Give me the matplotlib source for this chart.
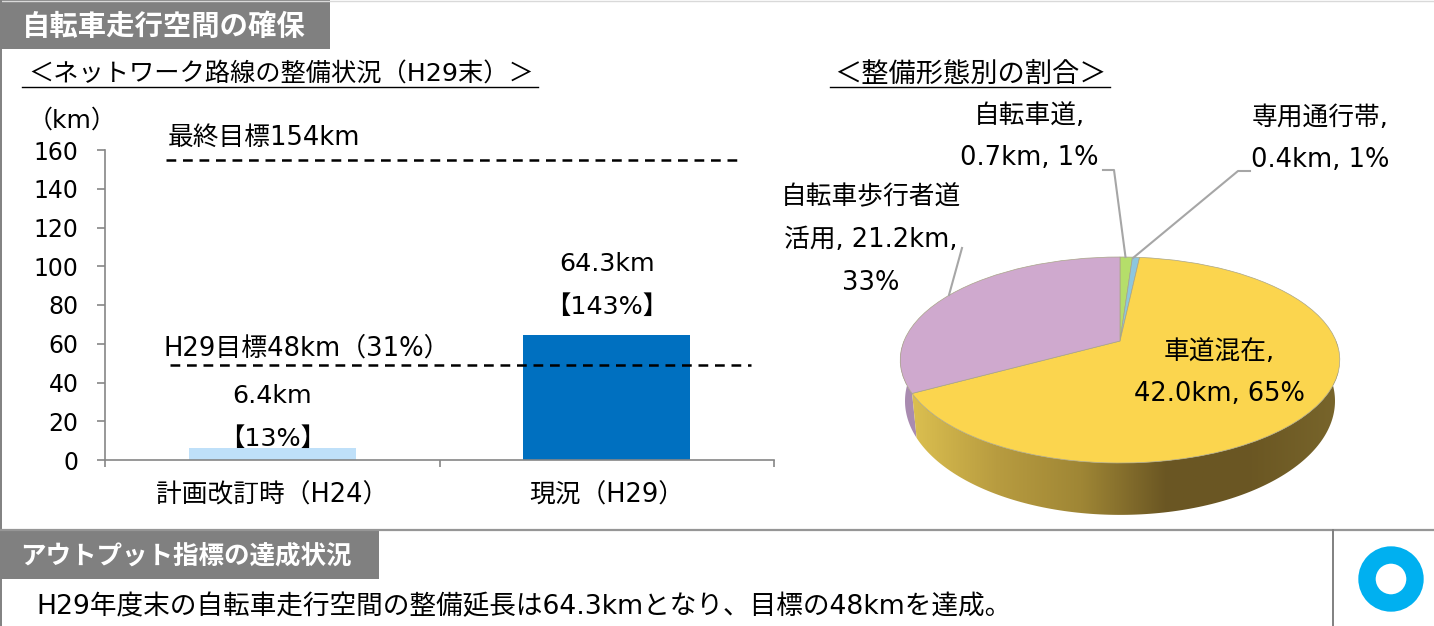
import numpy as np
import matplotlib
matplotlib.use("Agg")
import matplotlib.pyplot as plt
from matplotlib.colors import LinearSegmentedColormap
from matplotlib.patches import Circle, Polygon, Rectangle
from matplotlib.transforms import Transform

plt.rcParams['font.family'] = ['DejaVu Sans', 'Noto Sans CJK JP']

W, H = 1434, 626

# bar chart data
bar_names = ["計画改訂時（H24）", "現況（H29）"]
bar_values = [6.4, 64.3]
bar_rates = ["【13%】", "【143%】"]
bar_colors = ["#BFE0F9", "#0070C0"]
y_ticks = [0, 20, 40, 60, 80, 100, 120, 140, 160]
target_values = [155, 49]

# pie chart data
pie_names = ["自転車道", "専用通行帯", "車道混在", "自転車歩行者道\n活用"]
pie_values = [0.7, 0.4, 42.0, 21.2]
pie_pcts = [1, 1, 65, 33]
pie_colors = ["#B5DE6A", "#8CC6DE", "#FBD54E", "#CFA9CE"]
wall_colors = ["#DCC050", "#B89C40", "#9F8635", "#6A5623", "#6B5723", "#78652B"]
wall_purple = "#A98BB0"

GREY = "#808080"
LINE = "#A6A6A6"


class TiltTransform(Transform):
    """Unit circle to a pie lying on its back, near edge bigger than far edge"""
    input_dims = 2
    output_dims = 2

    def __init__(self, sx, sy, k, drop=0):
        super().__init__()
        self.sx, self.sy, self.k, self.drop = sx, sy, k, drop

    def transform_non_affine(self, xy):
        xy = np.asarray(xy)
        w = 1 + self.k * xy[:, 1]
        return np.column_stack([self.sx * xy[:, 0] / w, self.sy * xy[:, 1] / w - self.drop])


def px_axes(x0, y0, x1, y1):
    # axes placed by its pixel box in the reference
    return fig.add_axes([x0 / W, 1 - y1 / H, (x1 - x0) / W, (y1 - y0) / H])


fig = plt.figure(figsize=(W / 100, H / 100), dpi=100, facecolor="white")

# bars
ax = px_axes(105, 150, 774, 460)
ax.patch.set_visible(False)
xpos = np.arange(len(bar_values))
ax.bar(xpos, bar_values, width=0.5, color=bar_colors)
ax.set_xlim(-0.5, 1.5)
ax.set_ylim(0, 160)
ax.set_yticks(y_ticks)
ax.set_xticks([-0.5, 0.5, 1.5])
ax.set_xticklabels([])
ax.tick_params(axis="y", labelsize=17, length=6, width=1.2, color="#868686", pad=13)
ax.tick_params(axis="x", length=5, width=1.2, color="#868686")
for s in ["top", "right"]:
    ax.spines[s].set_visible(False)
for s in ["left", "bottom"]:
    ax.spines[s].set_color("#868686")
    ax.spines[s].set_linewidth(1.2)
for x, name in zip(xpos, bar_names):
    ax.annotate(name, (x, 0), xytext=(0, -36), textcoords="offset pixels", ha="center", va="center", fontsize=18.5)
for x, val, rate in zip(xpos, bar_values, bar_rates):
    ax.annotate(f"{val}km", (x, val), xytext=(0, 71 if x else 52), textcoords="offset pixels",
                ha="center", va="center", fontsize=18.3)
    ax.annotate(rate, (x, val), xytext=(0, 28 if x else 9), textcoords="offset pixels",
                ha="center", va="center", fontsize=18.3)
ax.plot([-0.317, 1.392], [target_values[0]] * 2, color="black", lw=1.8, dashes=(3.9, 2.7))
ax.plot([-0.307, 1.43], [target_values[1]] * 2, color="black", lw=1.8, dashes=(3.9, 2.7))

# pie, one axes unit is one pixel, origin on the pie centre
pie_ax = px_axes(880, 240, 1360, 525)
wedges, _ = pie_ax.pie(pie_values, colors=pie_colors, startangle=90, counterclock=False,
                       wedgeprops=dict(edgecolor="#A8A488", linewidth=0.5))
pie_ax.set_aspect("auto")
top = TiltTransform(216, 99.5, 0.1845)
bottom = TiltTransform(211.3, 110, 0.1845, drop=39)
for w in wedges:
    w.set_transform(top + pie_ax.transData)
    w.set_zorder(3)

# side wall of the pie, split where the last slice starts
seam = 90 - 360 * sum(pie_values[:3]) / sum(pie_values) + 360


def wall_poly(a0, a1):
    t = np.radians(np.linspace(a0, a1, 150))
    ring = np.column_stack([np.cos(t), np.sin(t)])
    return np.vstack([top.transform(ring), bottom.transform(ring)[::-1]])


pie_ax.add_patch(Polygon(wall_poly(180, seam), closed=True, fc=wall_purple, ec="none", zorder=1))
yellow_wall = Polygon(wall_poly(seam, 360), closed=True, fc="none", ec="none", zorder=1,
                      transform=pie_ax.transData)
pie_ax.add_patch(yellow_wall)
cmap = LinearSegmentedColormap.from_list("wall", wall_colors)
grad = pie_ax.imshow(np.linspace(0, 1, 256).reshape(1, -1), cmap=cmap, aspect="auto",
                     extent=(-210, 218, -190, 60), zorder=2)
grad.set_clip_path(yellow_wall)
pie_ax.set_xlim(-240, 240)
pie_ax.set_ylim(-184, 101)
pie_ax.axis("off")

# page furniture and every text placed in pixels
page = px_axes(0, 0, W, H)
page.set_xlim(0, W)
page.set_ylim(H, 0)
page.axis("off")
page.set_zorder(5)

page.plot([0, W], [0.5, 0.5], color="#D9D9D9", lw=1)
page.plot([1, 1], [0, H], color=GREY, lw=1.4)
page.plot([0, W], [529.5, 529.5], color="#969696", lw=1.6)
page.plot([1332.5, 1332.5], [530, H], color=GREY, lw=1.4)
page.add_patch(Rectangle((0, 0), 330, 49, fc=GREY, ec="none"))
page.add_patch(Rectangle((0, 531), 379, 48, fc=GREY, ec="none"))
page.text(22, 27, "自転車走行空間の確保", color="white", fontsize=20.4, fontweight="bold",
          family="Noto Sans CJK JP", va="center")
page.text(20, 556, "アウトプット指標の達成状況", color="white", fontsize=18.4, fontweight="bold",
          family="Noto Sans CJK JP", va="center")

page.text(28, 75, "＜ネットワーク路線の整備状況（H29末）＞", fontsize=18.2, va="center")
page.plot([22, 538], [87, 87], color="black", lw=1)
page.text(970, 75, "＜整備形態別の割合＞", fontsize=19.6, va="center", ha="center")
page.plot([830, 1110], [87, 87], color="black", lw=1)

page.text(72, 121, "（km）", fontsize=18, va="center", ha="center")
page.text(168, 138, "最終目標154km", fontsize=18.5, va="center")
page.text(164, 349, "H29目標48km（31%）", fontsize=18.6, va="center")

# pie labels
label_pos = [(1029, 137), (1320, 139), (1219, 373), (871, 240)]
for name, val, pct, (x, y) in zip(pie_names, pie_values, pie_pcts, label_pos):
    if "\n" in name:
        first, rest = name.split("\n")
        label = f"{first}\n{rest}, {val}km,\n{pct}%"
    else:
        label = f"{name},\n{val}km, {pct}%"
    page.text(x, y, label, fontsize=18.5, ha="center", va="center", linespacing=1.85)

page.plot([1103, 1114, 1125.5], [170, 170, 257], color=LINE, lw=1.5)
page.plot([1250, 1238, 1133], [171, 171, 258], color=LINE, lw=1.5)
page.plot([962, 949], [248, 295], color=LINE, lw=1.5)

page.text(36, 607, "H29年度末の自転車走行空間の整備延長は64.3kmとなり、目標の48kmを達成。",
          fontsize=19.2, va="center")
page.add_patch(Circle((1391, 579), 24, fc="none", ec="#00B0F0", lw=12.5))

fig.savefig("out.png", dpi=100)
